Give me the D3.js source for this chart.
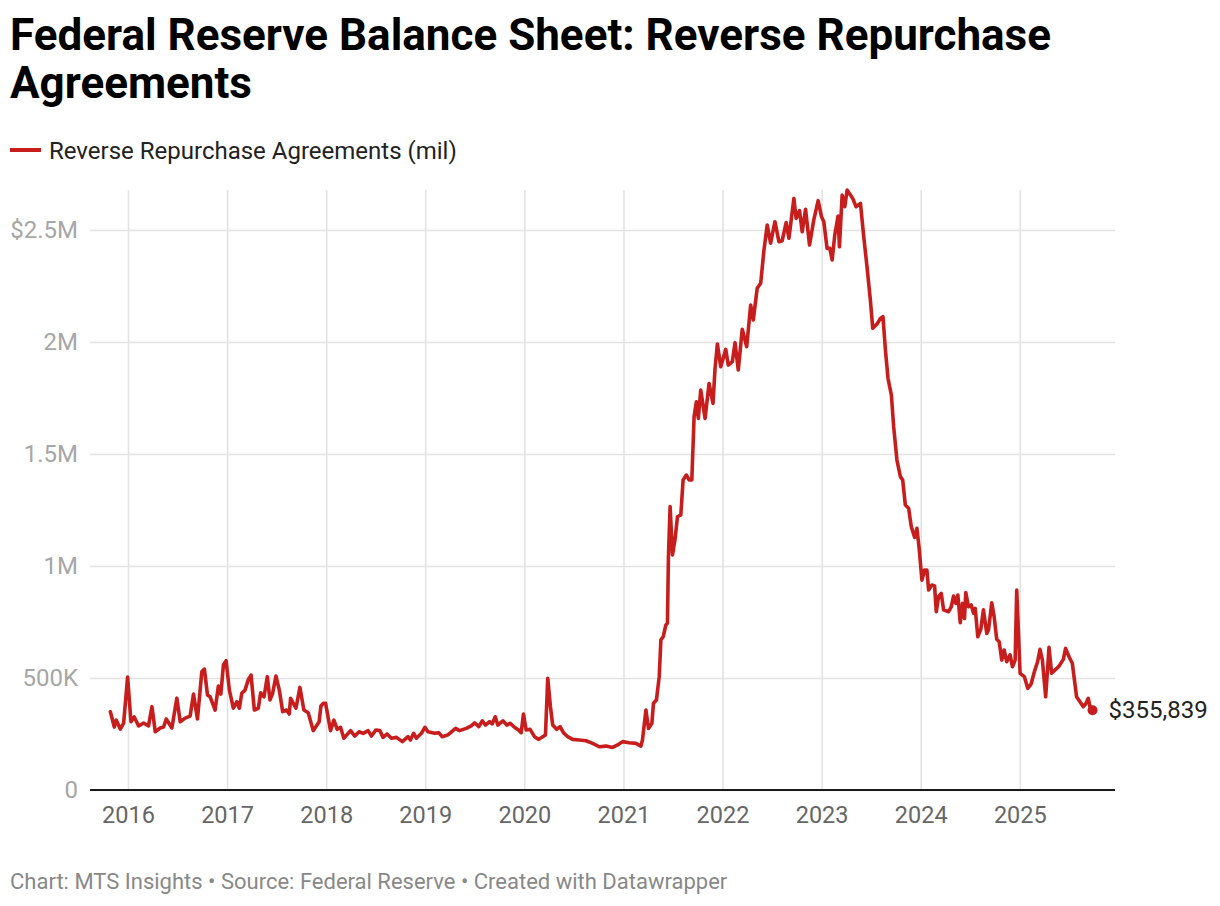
<!DOCTYPE html>
<html>
<head>
<meta charset="utf-8">
<script src="https://cdn.jsdelivr.net/npm/d3@7"></script>
<style>
  html, body { margin: 0; padding: 0; background: #fff; }
  svg { display: block; }
  text { font-family: Roboto, "Noto Sans", sans-serif; }
</style>
</head>
<body>
<div id="chart"></div>
<script>
// ---- Data (values in $ billions, i.e. thousands of "mil") ----
const titleLines = ["Federal Reserve Balance Sheet: Reverse Repurchase", "Agreements"];
const legendLabel = "Reverse Repurchase Agreements (mil)";
const footerText = "Chart: MTS Insights \u2022 Source: Federal Reserve \u2022 Created with Datawrapper";

const xTicks = [2016, 2017, 2018, 2019, 2020, 2021, 2022, 2023, 2024, 2025];
const yTicks = [0, 500, 1000, 1500, 2000, 2500];
const yTickLabels = ["0", "500K", "1M", "1.5M", "2M", "$2.5M"];

// [decimal year, value]
const rrpSeries = [
  [2015.822,349],[2015.862,281],[2015.882,312],[2015.922,272],[2015.956,299],[2015.996,504],
  [2016.030,305],[2016.063,326],[2016.107,286],[2016.157,299],[2016.207,286],[2016.242,372],
  [2016.275,260],[2016.325,277],[2016.359,281],[2016.386,317],[2016.443,277],[2016.493,410],
  [2016.527,305],[2016.577,321],[2016.627,330],[2016.661,428],[2016.701,317],[2016.745,528],
  [2016.771,540],[2016.802,424],[2016.829,416],[2016.879,357],[2016.912,464],[2016.937,428],
  [2016.963,558],[2016.990,577],
  [2017.023,446],[2017.063,365],[2017.098,394],[2017.124,365],[2017.148,432],[2017.181,446],
  [2017.215,494],[2017.242,513],[2017.275,357],[2017.315,365],[2017.339,434],[2017.373,416],
  [2017.406,506],[2017.433,402],[2017.460,432],[2017.493,509],[2017.527,446],[2017.561,350],
  [2017.601,357],[2017.627,339],[2017.641,409],[2017.695,365],[2017.735,458],[2017.775,357],
  [2017.819,345],[2017.869,265],[2017.929,305],[2017.947,375],[2017.970,387],[2017.994,387],
  [2018.044,265],[2018.078,312],[2018.111,271],[2018.145,280],[2018.178,231],[2018.246,265],
  [2018.289,241],[2018.332,260],[2018.373,253],[2018.423,265],[2018.457,241],[2018.501,268],
  [2018.541,265],[2018.574,235],[2018.614,250],[2018.659,231],[2018.709,235],[2018.769,216],
  [2018.826,238],[2018.850,223],[2018.883,253],[2018.910,231],[2018.961,253],[2018.997,280],
  [2019.027,260],[2019.095,253],[2019.135,256],[2019.172,238],[2019.229,246],[2019.306,275],
  [2019.346,265],[2019.414,275],[2019.464,286],[2019.498,300],[2019.541,283],[2019.575,309],
  [2019.608,290],[2019.649,305],[2019.676,295],[2019.706,327],[2019.732,290],[2019.783,309],
  [2019.823,290],[2019.857,298],[2019.900,280],[2019.941,268],[2019.968,256],[2019.991,339],
  [2020.018,268],[2020.058,271],[2020.102,238],[2020.145,226],[2020.185,238],[2020.213,246],
  [2020.236,499],[2020.263,372],[2020.286,290],[2020.326,271],[2020.361,283],[2020.394,256],
  [2020.437,238],[2020.487,226],[2020.555,223],[2020.622,220],[2020.689,208],[2020.756,193],
  [2020.824,196],[2020.890,190],[2020.941,201],[2020.991,216],
  [2021.058,211],[2021.126,208],[2021.176,196],[2021.192,223],[2021.227,357],[2021.253,275],
  [2021.287,298],[2021.303,387],[2021.333,402],[2021.361,506],[2021.378,670],[2021.401,684],
  [2021.428,737],[2021.444,744],[2021.454,1041],[2021.471,1265],[2021.495,1049],[2021.522,1124],
  [2021.545,1220],[2021.579,1228],[2021.602,1384],[2021.635,1406],[2021.663,1384],[2021.690,1384],
  [2021.713,1667],[2021.736,1733],[2021.756,1659],[2021.780,1786],[2021.824,1659],[2021.864,1815],
  [2021.904,1726],[2021.924,1880],[2021.948,1991],[2021.982,1890],
  [2022.032,1967],[2022.058,1897],[2022.099,1912],[2022.126,1997],[2022.159,1875],[2022.199,2057],
  [2022.244,1979],[2022.284,2165],[2022.310,2098],[2022.350,2240],[2022.385,2262],[2022.418,2410],
  [2022.451,2522],[2022.485,2441],[2022.529,2537],[2022.569,2448],[2022.602,2452],[2022.642,2533],
  [2022.670,2463],[2022.720,2641],[2022.743,2552],[2022.777,2586],[2022.804,2492],[2022.838,2592],
  [2022.878,2433],[2022.921,2545],[2022.965,2631],[2022.999,2559],
  [2023.022,2537],[2023.055,2418],[2023.083,2418],[2023.106,2366],[2023.133,2478],[2023.166,2562],
  [2023.180,2425],[2023.207,2656],[2023.234,2604],[2023.257,2678],[2023.291,2656],[2023.314,2641],
  [2023.347,2604],[2023.392,2619],[2023.425,2470],[2023.458,2336],[2023.492,2187],[2023.516,2061],
  [2023.559,2080],[2023.593,2105],[2023.619,2113],[2023.644,1964],[2023.670,1838],[2023.704,1763],
  [2023.727,1622],[2023.760,1473],[2023.795,1399],[2023.818,1384],[2023.845,1272],[2023.878,1258],
  [2023.905,1175],[2023.939,1128],[2023.962,1168],[2023.986,1071],
  [2024.012,937],[2024.039,982],[2024.062,982],[2024.080,893],[2024.113,915],[2024.140,911],
  [2024.157,796],[2024.180,863],[2024.207,878],[2024.231,804],[2024.281,796],[2024.308,818],
  [2024.331,866],[2024.355,833],[2024.375,870],[2024.399,747],[2024.422,833],[2024.442,766],
  [2024.455,881],[2024.482,818],[2024.510,826],[2024.533,789],[2024.550,811],[2024.576,684],
  [2024.606,717],[2024.633,804],[2024.667,699],[2024.684,714],[2024.717,836],[2024.741,774],
  [2024.767,673],[2024.792,662],[2024.818,580],[2024.842,625],[2024.868,573],[2024.902,603],
  [2024.926,550],[2024.953,580],[2024.969,893],
  [2025.003,521],[2025.046,506],[2025.080,454],[2025.114,473],[2025.147,528],[2025.180,573],
  [2025.204,628],[2025.228,580],[2025.261,416],[2025.295,637],[2025.321,521],[2025.356,536],
  [2025.396,553],[2025.439,583],[2025.462,632],[2025.497,595],[2025.530,566],[2025.573,416],
  [2025.607,394],[2025.641,372],[2025.664,384],[2025.691,409],[2025.708,372],[2025.734,355.839]
];

// ---- Layout ----
const W = 1220, H = 906;
const plot = { left: 90, right: 1115, top: 190, bottom: 790 };
const red = "#c71e1d";

const svg = d3.select("#chart").append("svg")
  .attr("width", W).attr("height", H).attr("viewBox", `0 0 ${W} ${H}`);
svg.append("rect").attr("width", W).attr("height", H).attr("fill", "#fff");

// Title
svg.append("g").selectAll("text").data(titleLines).join("text")
  .attr("x", 10).attr("y", (d, i) => 50 + i * 48)
  .attr("font-size", 44).attr("font-weight", 700).attr("fill", "#000")
  .text(d => d);

// Legend
svg.append("line").attr("x1", 10).attr("x2", 41).attr("y1", 150).attr("y2", 150)
  .attr("stroke", red).attr("stroke-width", 4);
svg.append("text").attr("x", 49).attr("y", 158.5)
  .attr("font-size", 24).attr("fill", "#222").text(legendLabel);

// Scales
const x = d3.scaleLinear().domain([2016, 2025]).range([128, 1019.8]);
const y = d3.scaleLinear().domain([0, 2500]).range([plot.bottom, 230]);

// Vertical gridlines
svg.append("g").attr("transform", `translate(0,${plot.bottom})`)
  .call(d3.axisBottom(x).tickValues(xTicks).tickSize(-(plot.bottom - plot.top)).tickFormat(""))
  .call(g => g.select(".domain").remove())
  .call(g => g.selectAll(".tick line").attr("stroke", "#e3e3e3").attr("stroke-width", 1.6));

// Horizontal gridlines + y labels
svg.append("g").attr("transform", `translate(${plot.left},0)`)
  .call(d3.axisLeft(y).tickValues(yTicks).tickFormat((d, i) => yTickLabels[i])
    .tickSize(-(plot.right - plot.left)).tickPadding(12))
  .call(g => g.select(".domain").remove())
  .call(g => g.selectAll(".tick line").attr("stroke", "#e3e3e3").attr("stroke-width", 1.6))
  .call(g => g.selectAll(".tick text").attr("font-size", 24).attr("fill", "#a6a6a6")
    .attr("font-family", "Roboto, sans-serif"));

// X labels
svg.append("g").attr("transform", `translate(0,${plot.bottom})`)
  .call(d3.axisBottom(x).tickValues(xTicks).tickFormat(d3.format("d")).tickSize(0).tickPadding(16))
  .call(g => g.select(".domain").remove())
  .call(g => g.selectAll(".tick text").attr("font-size", 23.5).attr("fill", "#666")
    .attr("font-family", "Roboto, sans-serif"));

// Baseline
svg.append("line").attr("x1", plot.left).attr("x2", plot.right)
  .attr("y1", y(0)).attr("y2", y(0)).attr("stroke", "#1a1a1a").attr("stroke-width", 2);

// Line
const line = d3.line().x(d => x(d[0])).y(d => y(d[1]));
svg.append("path").datum(rrpSeries).attr("d", line)
  .attr("fill", "none").attr("stroke", red).attr("stroke-width", 3.6)
  .attr("stroke-linejoin", "round").attr("stroke-linecap", "round");

// End point + label
const last = rrpSeries[rrpSeries.length - 1];
svg.append("circle").attr("cx", x(last[0])).attr("cy", y(last[1])).attr("r", 5).attr("fill", red);
svg.append("text").attr("x", x(last[0]) + 16).attr("y", y(last[1]))
  .attr("dy", "0.32em").attr("font-size", 24).attr("fill", "#222")
  .text(d3.format("$,.0f")(last[1] * 1000));

// Footer
svg.append("text").attr("x", 10).attr("y", 889)
  .attr("font-size", 22).attr("fill", "#888").text(footerText);
</script>
</body>
</html>
